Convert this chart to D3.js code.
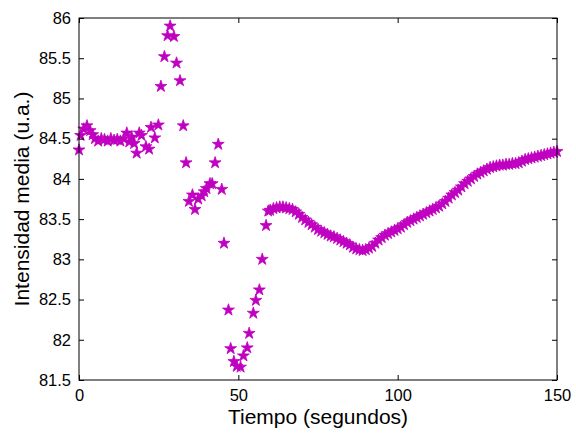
<!DOCTYPE html>
<html><head><meta charset="utf-8">
<script src="https://cdn.jsdelivr.net/npm/d3@7"></script>
<style>body{margin:0;background:#fff}svg{display:block}text{font-family:"Liberation Sans",Arial,sans-serif;fill:#000}</style>
</head><body><svg id="c" width="576" height="436"></svg>
<script>
const times = [0,0.5,1.5,2.5,3.5,4.3,5,6,7,8,9,10,11,12,13,14,15,15.8,16.5,17.3,18.1,18.9,19.6,21,22,22.6,23.8,24.9,25.7,26.8,27.8,28.6,29.8,30.6,31.7,32.7,33.6,34.5,35.6,36.4,37.4,38.5,39.3,40,41.1,41.8,42.7,43.7,44.8,45.5,46.9,47.6,48.6,49.5,50.7,51.6,52.8,53.4,54.7,55.5,56.6,57.5,58.7,59.4,
60,61,62,63,64,65,66,67,68,69,70,71,72,73,74,75,76,77,78,79,80,81,82,83,84,85,86,87,88,89,90,91,92,93,94,95,96,97,98,99,100,101,102,103,104,105,106,107,108,109,110,111,112,113,114,115,116,117,118,119,120,121,122,123,124,125,126,127,128,129,130,131,132,133,134,135,136,137,138,139,140,141,142,143,144,145,146,147,148,149,150];
const intensity = [84.36,84.54,84.62,84.66,84.6,84.55,84.5,84.47,84.5,84.49,84.47,84.5,84.48,84.49,84.47,84.5,84.57,84.46,84.52,84.44,84.32,84.57,84.54,84.4,84.37,84.64,84.51,84.67,85.15,85.52,85.78,85.9,85.77,85.44,85.22,84.66,84.2,83.72,83.8,83.62,83.75,83.79,83.84,83.88,83.94,83.94,84.2,84.43,83.87,83.2,82.37,81.89,81.73,81.67,81.66,81.8,81.9,82.08,82.33,82.49,82.62,83.0,83.42,83.6,
83.61,83.63,83.64,83.65,83.65,83.64,83.63,83.62,83.59,83.56,83.52,83.49,83.46,83.43,83.40,83.37,83.35,83.33,83.31,83.29,83.28,83.26,83.24,83.22,83.20,83.18,83.15,83.13,83.12,83.11,83.12,83.14,83.16,83.20,83.24,83.27,83.30,83.32,83.34,83.36,83.38,83.40,83.43,83.46,83.48,83.50,83.52,83.54,83.56,83.58,83.60,83.62,83.64,83.66,83.69,83.72,83.76,83.80,83.83,83.86,83.90,83.94,83.97,84.00,84.03,84.06,84.08,84.10,84.12,84.14,84.15,84.16,84.17,84.17,84.18,84.18,84.19,84.19,84.20,84.22,84.24,84.25,84.26,84.27,84.28,84.29,84.30,84.31,84.32,84.33,84.34];
const xTicks = [0,50,100,150];
const yTicks = [81.5,82,82.5,83,83.5,84,84.5,85,85.5,86];
const xLabel = "Tiempo (segundos)";
const yLabel = "Intensidad media (u.a.)";

const L=79,R=557,T=18,B=380;
const svg=d3.select("#c");
const x=d3.scaleLinear().domain([0,150]).range([L,R]);
const y=d3.scaleLinear().domain([81.5,86]).range([B,T]);
const fmt=d=>String(d);

const star=d3.symbol().type(d3.symbolStar).size(44);
svg.append("g").selectAll("path").data(times.map((t,i)=>[t,intensity[i]])).join("path")
 .attr("d",star).attr("transform",d=>`translate(${x(d[0])},${y(d[1])})`)
 .attr("fill","#c000c0").attr("stroke","#c000c0").attr("stroke-width",0.8).attr("stroke-linejoin","round");

const tk=5;
const gb=svg.append("g").attr("transform",`translate(0,${B})`).call(d3.axisBottom(x).tickValues(xTicks).tickFormat(fmt).tickSizeInner(-tk).tickSizeOuter(0).tickPadding(9));
const gt=svg.append("g").attr("transform",`translate(0,${T})`).call(d3.axisTop(x).tickValues(xTicks).tickFormat("").tickSizeInner(-tk).tickSizeOuter(0));
const gl=svg.append("g").attr("transform",`translate(${L},0)`).call(d3.axisLeft(y).tickValues(yTicks).tickFormat(fmt).tickSizeInner(-tk).tickSizeOuter(0).tickPadding(8));
const gr=svg.append("g").attr("transform",`translate(${R},0)`).call(d3.axisRight(y).tickValues(yTicks).tickFormat("").tickSizeInner(-tk).tickSizeOuter(0));
[gb,gt,gl,gr].forEach(g=>{g.select(".domain").remove();g.selectAll("line").attr("stroke","#000");g.selectAll("text").attr("font-size",16.5).attr("font-family","Liberation Sans, Arial, sans-serif").attr("fill","#000");});
svg.append("rect").attr("x",L).attr("y",T).attr("width",R-L).attr("height",B-T).attr("fill","none").attr("stroke","#000").attr("stroke-width",1);

svg.append("text").attr("x",(L+R)/2).attr("y",424).attr("text-anchor","middle").attr("font-size",21).text(xLabel);
svg.append("text").attr("transform",`translate(29,${(T+B)/2}) rotate(-90)`).attr("text-anchor","middle").attr("font-size",21).text(yLabel);
</script></body></html>
